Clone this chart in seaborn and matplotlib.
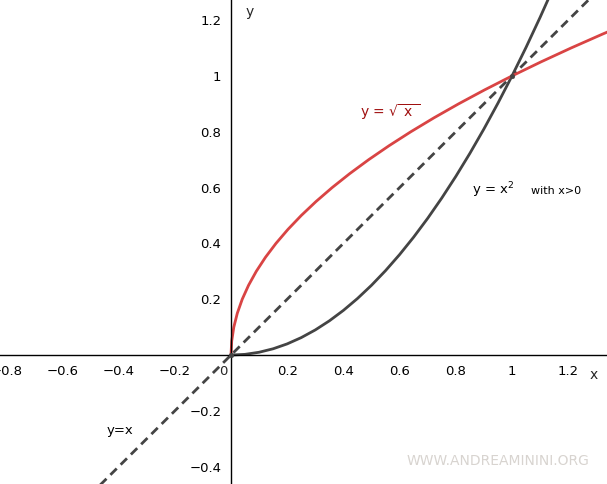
import numpy as np
import matplotlib
matplotlib.use("Agg")
import matplotlib.pyplot as plt
import seaborn as sns

# Points on the curves
grid_vals = [0, 0.05, 0.1, 0.15, 0.2, 0.25, 0.3, 0.35, 0.4, 0.45, 0.5, 0.55,
             0.6, 0.65, 0.7, 0.75, 0.8, 0.85, 0.9, 0.95, 1.0, 1.05, 1.1, 1.15, 1.2]
square_vals = [0, 0.0025, 0.01, 0.0225, 0.04, 0.0625, 0.09, 0.1225, 0.16, 0.2025,
               0.25, 0.3025, 0.36, 0.4225, 0.49, 0.5625, 0.64, 0.7225, 0.81, 0.9025,
               1.0, 1.1025, 1.21, 1.3225, 1.44]
diag_x = [-0.6, 1.4]
diag_y = [-0.6, 1.4]
cross_x = [0, 1]
cross_y = [0, 1]

x_ticks = [-0.8, -0.6, -0.4, -0.2, 0.2, 0.4, 0.6, 0.8, 1, 1.2]
x_tick_labels = ["\u22120.8", "\u22120.6", "\u22120.4", "\u22120.2", "0.2", "0.4", "0.6", "0.8", "1", "1.2"]
y_ticks = [-0.4, -0.2, 0.2, 0.4, 0.6, 0.8, 1, 1.2]
y_tick_labels = ["\u22120.4", "\u22120.2", "0.2", "0.4", "0.6", "0.8", "1", "1.2"]

sns.set_style("white")
plt.rcParams["font.family"] = ["DejaVu Sans"]

fig = plt.figure(figsize=(6.07, 4.84), dpi=100)
ax = fig.add_axes([0, 0, 1, 1])

dark = "#444444"
red = "#d94444"

# y = x (dashed)
sns.lineplot(x=diag_x, y=diag_y, ax=ax, color=dark, linewidth=2.0,
             linestyle=(0, (3.2, 2.0)), sort=False, estimator=None)
# y = x^2
sns.lineplot(x=grid_vals, y=square_vals, ax=ax, color=dark, linewidth=2.0,
             sort=False, estimator=None)
# y = sqrt(x)
sns.lineplot(x=square_vals, y=grid_vals, ax=ax, color=red, linewidth=2.0,
             sort=False, estimator=None)
sns.scatterplot(x=cross_x, y=cross_y, ax=ax, color=dark, s=12, edgecolor=None, zorder=5)

ax.set_xlim(-0.822, 1.338)
ax.set_ylim(-0.462, 1.272)

# axes through the origin
ax.spines["left"].set_position(("data", 0))
ax.spines["bottom"].set_position(("data", 0))
ax.spines["right"].set_visible(False)
ax.spines["top"].set_visible(False)
for s in ["left", "bottom"]:
    ax.spines[s].set_color("black")
    ax.spines[s].set_linewidth(1.0)

ax.set_xticks(x_ticks)
ax.set_xticklabels(x_tick_labels)
ax.set_yticks(y_ticks)
ax.set_yticklabels(y_tick_labels)
ax.tick_params(axis="both", direction="out", length=4, width=0.9, color="black",
               labelsize=9.5, labelcolor="black", pad=3)
ax.set_xlabel("")
ax.set_ylabel("")
ax.grid(False)

ax.text(-0.012, -0.035, "0", fontsize=9.5, ha="right", va="top")
ax.text(1.292, -0.072, "x", fontsize=10, ha="center", va="center")
ax.text(0.068, 1.229, "y", fontsize=10, ha="center", va="center")

ax.text(0.459, 0.871, r"y = $\sqrt{\ \mathregular{x}\ }$", fontsize=10,
        color="#a01010", ha="left", va="center")
ax.text(0.858, 0.591, r"y = x$^\mathregular{2}$", fontsize=9.5,
        color="black", ha="left", va="center")
ax.text(1.068, 0.588, "with x>0", fontsize=8, color="black", ha="left", va="center")
ax.text(-0.441, -0.269, "y=x", fontsize=9.5, color="black", ha="left", va="center")

fig.text(0.669, 0.0475, "WWW.ANDREAMININI.ORG", fontsize=10, color="#d8d4d0",
         ha="left", va="center")

fig.savefig("out.png", dpi=100)
